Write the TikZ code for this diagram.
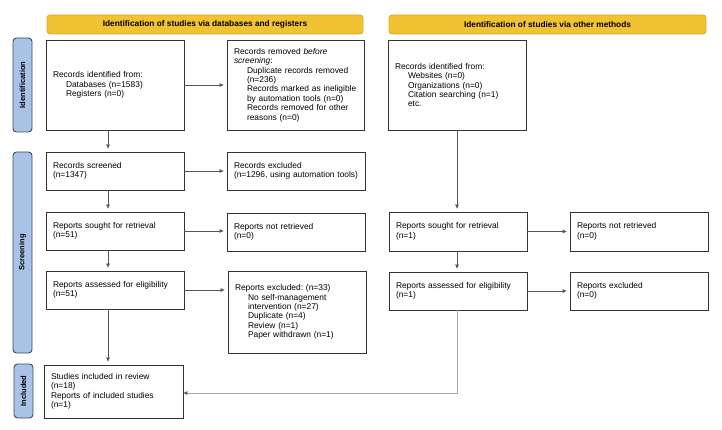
\documentclass[tikz,border=0pt]{standalone}
\usepackage{fontspec}
\setmainfont{Liberation Sans}
\usetikzlibrary{arrows.meta,calc}
\definecolor{hdryellow}{HTML}{F1C232}
\definecolor{hdrborder}{HTML}{D9AA28}
\definecolor{sideblue}{HTML}{A8C3E6}
\definecolor{sideborder}{HTML}{3E4A5A}
\definecolor{boxborder}{HTML}{333333}
\definecolor{arrgray}{HTML}{555555}
\definecolor{lightgray}{HTML}{AAAAAA}
\newcommand{\ind}{\hspace*{13pt}}
\hyphenpenalty=10000
\exhyphenpenalty=10000
\frenchspacing
\begin{document}
\begin{tikzpicture}[x=1pt,y=-1pt,
  every node/.style={font=\fontsize{8.4}{9.4}\selectfont, inner sep=0pt},
  box/.style={draw=boxborder, line width=0.8pt, fill=white, align=left, inner xsep=7pt, anchor=center},
  hdr/.style={draw=hdrborder, fill=hdryellow, line width=0.8pt, rounded corners=3pt, font=\fontsize{8.3}{9.6}\selectfont\bfseries, anchor=center},
  side/.style={draw=sideborder, fill=sideblue, line width=0.9pt, rounded corners=3.5pt, anchor=center, minimum width=19pt},
  sidetext/.style={rotate=90, font=\fontsize{7.5}{9}\selectfont\bfseries},
  arr/.style={draw=arrgray, line width=0.6pt, -{Triangle[length=4pt,width=3.5pt]}, shorten >=3pt},
  larr/.style={draw=lightgray, line width=0.9pt, -{Triangle[length=4pt,width=3.5pt,color=arrgray]}}
]
\useasboundingbox (0,0) rectangle (722,430);

% headers
\node[hdr, minimum width=316pt, minimum height=19pt] (h1) at (205,24.5) {Identification of studies via databases and registers};
\node[hdr, minimum width=317pt, minimum height=19pt] (h2) at (547.5,24.5) {Identification of studies via other methods};

% side labels
\node[side, minimum height=94pt] (s1) at (22.5,85) {};
\node[sidetext] (s1t) at (s1.center) {Identification};
\node[side, minimum height=201pt] (s2) at (22.5,252.5) {};
\node[sidetext] (s2t) at (s2.center) {Screening};
\node[side, minimum height=54pt] (s3) at (23.5,391) {};
\node[sidetext] (s3t) at (s3.center) {Included};

% left column
\node[box, minimum width=138pt, minimum height=90pt, text width=124pt] (id1) at (115,85)
  {Records identified from:\\\ind Databases (n=1583)\\\ind Registers (n=0)};
\node[box, minimum width=137pt, minimum height=90pt, text width=123pt] (rem) at (295.5,85)
  {Records removed \emph{before}\\\emph{screening}:\\\ind Duplicate records removed\\\ind (n=236)\\\ind Records marked as ineligible\\\ind by automation tools (n=0)\\\ind Records removed for other\\\ind reasons (n=0)};
\node[box, minimum width=138pt, minimum height=38pt, text width=124pt] (scr) at (115,171)
  {Records screened\\(n=1347)};
\node[box, minimum width=138pt, minimum height=38pt, text width=124pt] (exc) at (296,171)
  {Records excluded\\(n=1296, using automation tools)};
\node[box, minimum width=138pt, minimum height=38pt, text width=124pt] (sought) at (115,231)
  {Reports sought for retrieval\\(n=51)};
\node[box, minimum width=138pt, minimum height=38pt, text width=124pt] (notret) at (296,232)
  {Reports not retrieved\\(n=0)};
\node[box, minimum width=138pt, minimum height=38pt, text width=124pt] (assess) at (115,290)
  {Reports assessed for eligibility\\(n=51)};
\node[box, minimum width=138pt, minimum height=82pt, text width=124pt] (repexc) at (297,312)
  {Reports excluded: (n=33)\\\ind No self-management\\\ind intervention (n=27)\\\ind Duplicate (n=4)\\\ind Review (n=1)\\\ind Paper withdrawn (n=1)};
\node[box, minimum width=139pt, minimum height=53pt, text width=125pt] (incl) at (113.5,391.5)
  {Studies included in review\\(n=18)\\Reports of included studies\\(n=1)};

% right column
\node[box, minimum width=138pt, minimum height=90pt, text width=124pt] (other) at (457,85)
  {Records identified from:\\\ind Websites (n=0)\\\ind Organizations (n=0)\\\ind Citation searching (n=1)\\\ind etc.};
\node[box, minimum width=138pt, minimum height=39pt, text width=124pt] (osought) at (458,231.5)
  {Reports sought for retrieval\\(n=1)};
\node[box, minimum width=138pt, minimum height=39pt, text width=124pt] (onotret) at (639,231.5)
  {Reports not retrieved\\(n=0)};
\node[box, minimum width=138pt, minimum height=38pt, text width=124pt] (oassess) at (458,291)
  {Reports assessed for eligibility\\(n=1)};
\node[box, minimum width=138pt, minimum height=38pt, text width=124pt] (oexc) at (639,291)
  {Reports excluded\\(n=0)};

% column coordinates
\coordinate (colx) at (108,0);
\coordinate (ocolx) at (457,0);
\coordinate (bend) at (457,393);

% left arrows
\draw[arr] (id1.south -| colx) -- (scr.north -| colx);
\draw[arr] (scr.south -| colx) -- (sought.north -| colx);
\draw[arr] (sought.south -| colx) -- (assess.north -| colx);
\draw[arr] (assess.south -| colx) -- (incl.north -| colx);
\draw[arr] (id1.east) -- (rem.west |- id1.east);
\draw[arr] (scr.east) -- (exc.west |- scr.east);
\draw[arr] (sought.east) -- (notret.west |- sought.east);
\draw[arr] (assess.east) -- (repexc.west |- assess.east);

% right arrows
\draw[arr] (other.south -| ocolx) -- (osought.north -| ocolx);
\draw[arr] (osought.south -| ocolx) -- (oassess.north -| ocolx);
\draw[arr] (osought.east) -- (onotret.west |- osought.east);
\draw[arr] (oassess.east) -- (oexc.west |- oassess.east);
\draw[larr] (oassess.south -| ocolx) -- (bend) -- (incl.east |- bend);
\end{tikzpicture}
\end{document}
